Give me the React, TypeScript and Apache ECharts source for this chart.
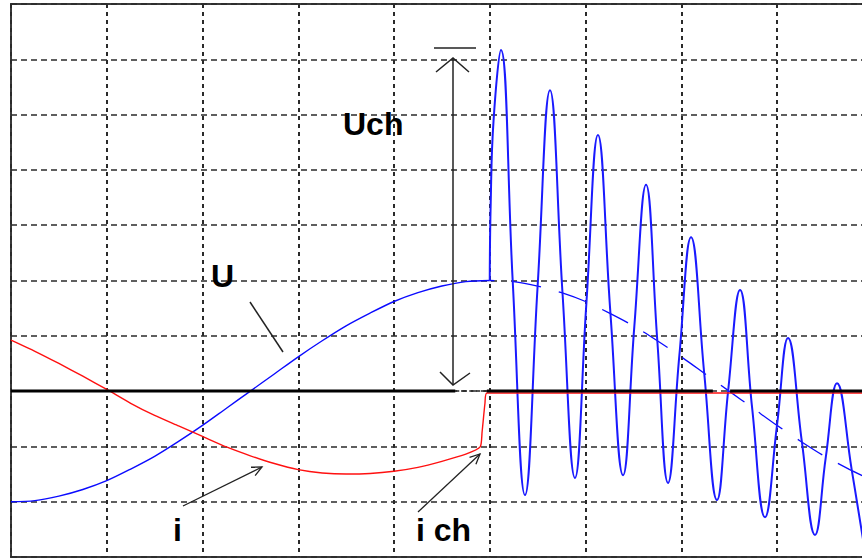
import React, { useEffect, useRef } from "react";
import * as echarts from "echarts";

// x in grid divisions (0..9 visible), y in grid divisions (zero line = 0)
const uX = [0, 0.25, 0.5, 0.75, 1, 1.25, 1.5, 1.75, 2, 2.25, 2.5, 2.75, 3, 3.25, 3.5, 3.75, 4, 4.25, 4.5, 4.75, 5];
const uY = [-2.0, -1.98, -1.9, -1.78, -1.62, -1.41, -1.18, -0.91, -0.62, -0.31, 0, 0.31, 0.62, 0.91, 1.18, 1.41, 1.62, 1.78, 1.9, 1.98, 2.0];

const oscX = [5.0, 5.01, 5.04, 5.117, 5.24, 5.368, 5.5, 5.629, 5.76, 5.89, 6.01, 6.13, 6.26, 6.392, 6.51, 6.632, 6.75, 6.862, 6.98, 7.102, 7.24, 7.373, 7.49, 7.614, 7.74, 7.875, 8.0, 8.115, 8.26, 8.397, 8.51, 8.627, 8.78, 8.93];
const oscY = [2.0, 3.4, 4.9, 6.17, 1.98, -1.88, 1.9, 5.44, 1.77, -1.57, 1.61, 4.63, 1.42, -1.52, 1.17, 3.73, 0.91, -1.66, 0.64, 2.78, 0.32, -1.97, 0.01, 1.83, -0.3, -2.28, -0.62, 0.96, -0.92, -2.6, -1.19, 0.14, -1.42, -3.02];

const trendX = [5.0, 5.25, 5.5, 5.75, 6.0, 6.25, 6.5, 6.75, 7.0, 7.25, 7.5, 7.75, 8.0, 8.25, 8.5, 8.75, 9.0];
const trendY = [2.0, 1.98, 1.9, 1.78, 1.62, 1.41, 1.18, 0.91, 0.62, 0.31, 0.0, -0.31, -0.62, -0.91, -1.18, -1.41, -1.62];

const iX = [0, 0.25, 0.5, 0.75, 1, 1.25, 1.5, 1.75, 2, 2.25, 2.5, 2.75, 3, 3.25, 3.5, 3.75, 4, 4.25, 4.5, 4.75, 4.9, 4.92, 4.95, 4.97, 6, 7, 8, 9];
const iY = [0.92, 0.72, 0.5, 0.27, 0.03, -0.22, -0.44, -0.63, -0.82, -1.01, -1.17, -1.31, -1.42, -1.48, -1.5, -1.49, -1.45, -1.38, -1.27, -1.14, -1.01, -0.74, -0.22, -0.035, -0.035, -0.035, -0.035, -0.035];

const zeroSegments = [[0, 4.64], [4.97, 7.33], [7.51, 9]];
const zeroDotted = [4.64, 4.97];

const labels = ["U", "Uch", "i", "i ch"];

const pairs = (xs: number[], ys: number[]) => xs.map((x, k) => [x, ys[k]]);

function arrowHead(x1: number, y1: number, x2: number, y2: number, len: number, ang: number) {
  const dx = x2 - x1, dy = y2 - y1;
  const L = Math.hypot(dx, dy);
  const ux = dx / L, uy = dy / L;
  const a = (ang * Math.PI) / 180;
  const c = Math.cos(a), s = Math.sin(a);
  const r1 = [ux * c - uy * s, ux * s + uy * c];
  const r2 = [ux * c + uy * s, -ux * s + uy * c];
  return [[x2 - len * r1[0], y2 - len * r1[1]], [x2, y2], [x2 - len * r2[0], y2 - len * r2[1]]];
}

export default function App() {
  const ref = useRef<HTMLDivElement>(null);
  useEffect(() => {
    const chart = echarts.init(ref.current!, null, { renderer: "svg" });
    const ink = "#222";
    const font = { fontFamily: "Liberation Sans, Arial, sans-serif", fontWeight: "bold" as const, fontSize: 32, fill: "#000" };
    const series: any[] = [
      {
        type: "line", data: pairs(uX, uY), showSymbol: false, smooth: 0.3,
        lineStyle: { color: "#0a0aff", width: 1.4 }, z: 3,
      },
      {
        type: "line", data: pairs(trendX, trendY), showSymbol: false, smooth: 0.3,
        lineStyle: { color: "#0a0aff", width: 1.3, type: [29, 18], dashOffset: 24 }, z: 3,
      },
      {
        type: "line", data: pairs(oscX, oscY), showSymbol: false, smooth: 0.45,
        lineStyle: { color: "#1a1aff", width: 2 }, z: 3,
      },
      {
        type: "line", data: pairs(iX, iY), showSymbol: false, smooth: 0.2,
        lineStyle: { color: "#ff1010", width: 1.4 }, z: 4,
      },
      ...zeroSegments.map((seg) => ({
        type: "line", data: [[seg[0], 0], [seg[1], 0]], showSymbol: false,
        lineStyle: { color: "#000", width: 3 }, z: 5,
      })),
      {
        type: "line", data: [[zeroDotted[0], 0], [zeroDotted[1], 0]], showSymbol: false,
        lineStyle: { color: "#222", width: 1.5, type: [4, 3] }, z: 5,
      },
    ];
    const iHead = arrowHead(183, 506, 262, 467, 11, 25);
    const ichHead = arrowHead(418, 512, 480, 454, 11, 25);
    chart.setOption({
      animation: false,
      backgroundColor: "#fff",
      grid: { left: 11, top: 4, width: 861.75, height: 553, show: true, borderColor: "#3a3a3a", borderWidth: 2, backgroundColor: "transparent" },
      xAxis: {
        type: "value", min: 0, max: 9, interval: 1,
        axisLine: { show: false }, axisTick: { show: false }, axisLabel: { show: false },
        splitLine: { show: true, lineStyle: { color: "#2a2a2a", width: 2, type: [4, 4] } },
      },
      yAxis: {
        type: "value", min: -3, max: 7, interval: 1,
        axisLine: { show: false }, axisTick: { show: false }, axisLabel: { show: false },
        splitLine: { show: true, lineStyle: { color: "#2a2a2a", width: 1.6, type: [6, 4] } },
      },
      series,
      graphic: [
        { type: "text", x: 211, y: 276, style: { ...font, text: labels[0], verticalAlign: "middle", align: "left" }, z: 10 },
        { type: "text", x: 343, y: 124, style: { ...font, text: labels[1], verticalAlign: "middle", align: "left" }, z: 10 },
        { type: "text", x: 173, y: 530, style: { ...font, text: labels[2], verticalAlign: "middle", align: "left" }, z: 10 },
        { type: "text", x: 416, y: 530, style: { ...font, text: labels[3], verticalAlign: "middle", align: "left" }, z: 10 },
        { type: "line", shape: { x1: 250, y1: 302, x2: 283, y2: 352 }, style: { stroke: ink, lineWidth: 1.5 }, z: 10 },
        { type: "line", shape: { x1: 453, y1: 58, x2: 453, y2: 385 }, style: { stroke: ink, lineWidth: 1.5 }, z: 10 },
        { type: "line", shape: { x1: 434, y1: 48, x2: 476, y2: 48 }, style: { stroke: ink, lineWidth: 1.5 }, z: 10 },
        { type: "polyline", shape: { points: [[436, 72], [453, 58], [469, 72]] }, style: { stroke: ink, lineWidth: 1.5, fill: null }, z: 10 },
        { type: "polyline", shape: { points: [[440, 372], [453, 385], [470, 373]] }, style: { stroke: ink, lineWidth: 1.5, fill: null }, z: 10 },
        { type: "line", shape: { x1: 183, y1: 506, x2: 262, y2: 467 }, style: { stroke: ink, lineWidth: 1.3 }, z: 10 },
        { type: "polyline", shape: { points: iHead }, style: { stroke: ink, lineWidth: 1.3, fill: null }, z: 10 },
        { type: "line", shape: { x1: 418, y1: 512, x2: 480, y2: 454 }, style: { stroke: ink, lineWidth: 1.3 }, z: 10 },
        { type: "polyline", shape: { points: ichHead }, style: { stroke: ink, lineWidth: 1.3, fill: null }, z: 10 },
      ],
    });
    return () => chart.dispose();
  }, []);
  return (
    <div style={{ position: "fixed", left: 0, top: 0, width: 862, height: 559, overflow: "hidden", background: "#fff" }}>
      <div ref={ref} style={{ width: 900, height: 559 }} />
    </div>
  );
}
